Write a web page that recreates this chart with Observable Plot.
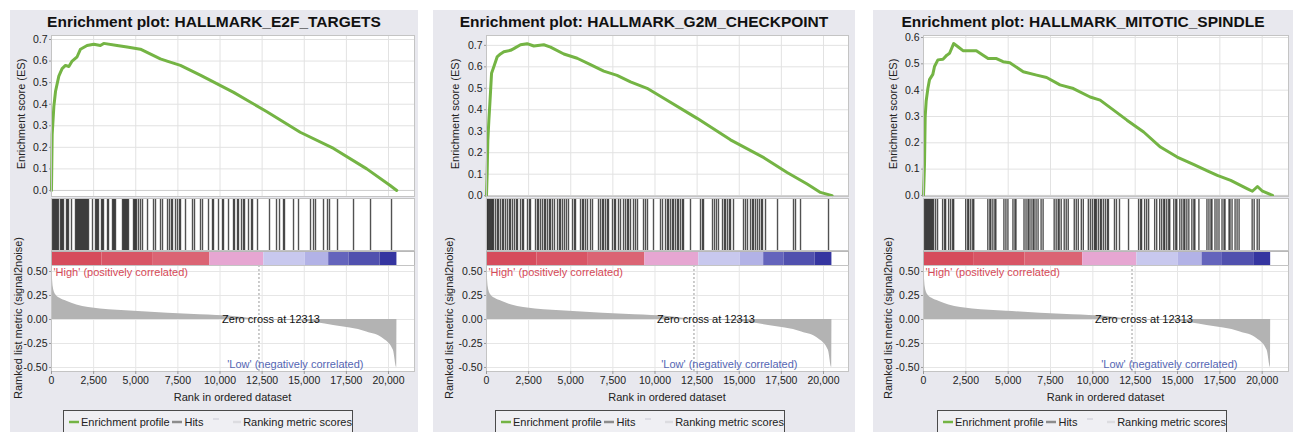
<!DOCTYPE html>
<html><head><meta charset="utf-8">
<script src="https://cdn.jsdelivr.net/npm/d3@7"></script>
<script src="https://cdn.jsdelivr.net/npm/@observablehq/plot@0.6"></script>
<style>
body{margin:0;background:#fff;font-family:"Liberation Sans",Arial,sans-serif;}
#root{position:relative;width:1293px;height:432px;overflow:hidden;background:#fff;}
.panel{position:absolute;top:10px;height:422px;background:#e8e8ee;overflow:hidden;}
.title{position:absolute;top:3px;left:0;right:0;text-align:center;font-weight:bold;font-size:15.5px;line-height:18px;color:#111;white-space:nowrap;}
.abs{position:absolute;}
.rot{position:absolute;transform:translate(-50%,-50%) rotate(-90deg);white-space:nowrap;font-size:11px;color:#222;line-height:12px;}
.xlab{position:absolute;transform:translate(-50%,-50%);white-space:nowrap;font-size:11px;color:#222;line-height:12px;}
.legend{position:absolute;top:400px;width:290px;height:24px;border:1.5px solid #4a4a4a;background:#efeff3;font-size:11px;color:#222;display:flex;align-items:center;padding-left:3px;box-sizing:border-box;white-space:nowrap;}
.legend svg{display:block;margin:0 2px;}
</style></head>
<body><div id="root"></div>
<script>
// ---------- data ----------
const titles = ["Enrichment plot: HALLMARK_E2F_TARGETS", "Enrichment plot: HALLMARK_G2M_CHECKPOINT", "Enrichment plot: HALLMARK_MITOTIC_SPINDLE"];
const xTicks = [0, 2500, 5000, 7500, 10000, 12500, 15000, 17500, 20000];
const esTicks7 = [0, 0.1, 0.2, 0.3, 0.4, 0.5, 0.6, 0.7];
const esTicks6 = [0, 0.1, 0.2, 0.3, 0.4, 0.5, 0.6];
const rankedTicks = [-0.5, -0.25, 0, 0.25, 0.5];
const zeroCross = 12313;

const e2fRank = [0, 40, 140, 240, 435, 630, 830, 1030, 1225, 1520, 1720, 2110, 2510, 2900, 3100, 3890, 4485, 5275, 5670, 6460, 6860, 7650, 8830, 10810, 12785, 14760, 16740, 18710, 20100, 20490];
const e2fES = [0, 0.26, 0.39, 0.46, 0.53, 0.565, 0.58, 0.575, 0.60, 0.62, 0.655, 0.672, 0.678, 0.672, 0.682, 0.672, 0.665, 0.655, 0.64, 0.61, 0.60, 0.58, 0.535, 0.455, 0.365, 0.27, 0.195, 0.10, 0.023, 0];
const e2fHits = [59,119,178,237,297,356,415,534,594,653,712,890,950,1009,1187,1424,1484,1543,1602,1662,1721,1781,1840,1899,1959,2018,2077,2137,2196,2433,2611,2671,2730,2789,2968,3027,3086,3324,3383,3620,3680,3739,3798,4214,4273,4332,4392,4451,4511,4570,4867,4926,4985,5045,5163,5282,5401,5698,6054,6172,6469,6588,6885,7003,7122,7181,7359,7478,7597,7656,7953,8368,8487,8843,8962,9318,9555,9614,9911,10149,10208,10505,10802,10861,11039,11098,11276,11395,11455,11692,11870,11930,12226,12938,13354,13532,13769,13828,14363,14659,15372,15550,15668,16143,16380,16499,16974,17924,18933,20179];

const g2mRank = [0, 40, 80, 140, 200, 300, 435, 630, 830, 1030, 1425, 1620, 2020, 2410, 2810, 3400, 3800, 4590, 5380, 6170, 6960, 7750, 8545, 9530, 10520, 12500, 14480, 16460, 17840, 19030, 19820, 20510];
const g2mES = [0, 0.108, 0.26, 0.35, 0.43, 0.57, 0.60, 0.646, 0.66, 0.67, 0.677, 0.685, 0.703, 0.708, 0.697, 0.703, 0.692, 0.66, 0.64, 0.61, 0.58, 0.56, 0.53, 0.50, 0.454, 0.36, 0.26, 0.177, 0.108, 0.054, 0.015, 0];
const g2mHits = [10,60,120,180,240,300,360,415,534,650,712,830,950,1009,1128,1246,1365,1424,1543,1662,1781,1840,2018,2137,2196,2433,2552,2611,2908,3027,3086,3205,3324,3443,3502,3620,3739,3798,3917,4036,4214,4332,4392,4511,4630,4748,4867,5104,5223,5282,5579,5698,5757,5876,5995,6172,6291,6647,6766,6885,6944,7063,7181,7240,7478,7597,7656,7834,7953,8131,8250,8368,8428,8546,8724,8843,8962,9318,9437,9555,9911,10327,10446,10624,10743,10802,10921,11039,11098,11217,11336,11395,11514,11633,11692,12107,12701,12820,12879,13413,13532,13650,13769,14007,14125,14185,14304,14422,14481,14659,15253,15372,15490,15668,15787,15846,15965,16083,16202,16321,16380,16559,17271,18220,18339,18636,20298];

const mitRank = [0, 60, 100, 160, 255, 355, 550, 650, 850, 1150, 1380, 1540, 1780, 2035, 2330, 3120, 3520, 3815, 4310, 4700, 5100, 5890, 6680, 7270, 8060, 8850, 9840, 10430, 11225, 12015, 13000, 13990, 14980, 15970, 16760, 17350, 18140, 19130, 19420, 19720, 20020, 20610];
const mitES = [0, 0.12, 0.30, 0.36, 0.405, 0.44, 0.46, 0.49, 0.515, 0.517, 0.533, 0.54, 0.577, 0.565, 0.55, 0.55, 0.533, 0.52, 0.52, 0.508, 0.504, 0.47, 0.457, 0.448, 0.42, 0.406, 0.374, 0.362, 0.324, 0.286, 0.241, 0.184, 0.146, 0.117, 0.093, 0.076, 0.057, 0.025, 0.016, 0.034, 0.016, 0];
const mitHits = [59,119,178,237,297,356,415,475,534,594,712,830,1128,1246,1306,1484,1602,1721,1781,2493,2611,2671,2789,2908,2968,3798,3917,3976,4095,4214,4273,4748,4867,4985,5282,5401,5460,5935,6054,6172,6232,6350,6469,6528,6647,6766,6944,7063,7716,7834,7953,8012,8131,8309,8428,8546,8903,9021,9140,9318,9437,9733,9852,9970,10089,10149,10208,10327,10446,10505,10624,10743,10861,10921,11277,11395,11573,12107,12701,12820,12879,13057,13176,13294,13650,13769,13947,14066,14185,14244,14363,14481,14541,14778,14897,14956,15134,15253,15372,15431,15550,15668,15846,15965,16024,16262,16737,16855,16974,17033,17212,17330,17449,17627,17746,17805,18042,18101,18220,18398,18517,18636,19407,19526,19704,19823];

const barStart = [0, 3000, 6000, 9400, 12600, 15050, 16450, 17650, 19500];
const barEnd = [3000, 6000, 9400, 12600, 15050, 16450, 17650, 19500, 20500];
const barColor = ["#d64c5c", "#d85565", "#db6474", "#e6a6d2", "#c8c8ee", "#b2b2e6", "#6464bc", "#5050ae", "#3535a0"];

const rankedRank = [0, 40, 100, 240, 500, 900, 1500, 2900, 4900, 6900, 8800, 10800, 12313, 14760, 16740, 18710, 19700, 20290, 20490, 20500];
const rankedValue = [0.6, 0.48, 0.34, 0.26, 0.22, 0.19, 0.15, 0.11, 0.087, 0.066, 0.049, 0.031, 0, -0.017, -0.063, -0.13, -0.2, -0.32, -0.5, 0];

const legendItems = ["Enrichment profile", "Hits", "Ranking metric scores"];
const highLabel = "'High' (positively correlated)";
const lowLabel = "'Low' (negatively correlated)";
const zeroLabel = "Zero cross at " + zeroCross;

// ---------- layout ----------
const FONT = '"Liberation Sans", Arial, sans-serif';
const GREEN = "#74b444";
const panels = [
  {title: titles[0], left: 10, width: 408, plotL: 41, plotR: 404, xMax: 21543, rank: e2fRank, es: e2fES, hits: e2fHits, esDom: [-0.028, 0.7186], esTicks: esTicks7, esLabX: 11, rkLabX: 7.5, legL: 53},
  {title: titles[1], left: 433, width: 422, plotL: 53, plotR: 415, xMax: 21484, rank: g2mRank, es: g2mES, hits: g2mHits, esDom: [-0.004, 0.746], esTicks: esTicks7, esLabX: 22, rkLabX: 16, legL: 62},
  {title: titles[2], left: 873, width: 420, plotL: 50, plotR: 415, xMax: 21553, rank: mitRank, es: mitES, hits: mitHits, esDom: [-0.004, 0.6076], esTicks: esTicks6, esLabX: 20, rkLabX: 14.5, legL: 64}
];

const root = document.getElementById("root");
function mk(tag, cls, style, text) {
  const e = document.createElement(tag);
  if (cls) e.className = cls;
  Object.assign(e.style, style || {});
  if (text != null) e.textContent = text;
  return e;
}
function place(node, top) {
  node.style.position = "absolute";
  node.style.left = "0px";
  node.style.top = top + "px";
  node.style.overflow = "visible";
  return node;
}

panels.forEach(p => {
  const panel = mk("div", "panel", {left: p.left + "px", width: p.width + "px"});
  root.appendChild(panel);
  panel.appendChild(mk("div", "title", {}, p.title));
  const common = {
    width: p.width, marginLeft: p.plotL, marginRight: p.width - p.plotR,
    style: {background: "transparent", fontFamily: FONT, fontSize: "10.5px", color: "#222", overflow: "visible"},
    x: {domain: [0, p.xMax], axis: null}
  };

  // ES plot
  const esData = p.rank.map((r, i) => ({r, v: p.es[i]}));
  const es = Plot.plot({
    ...common, height: 161 + 12, marginTop: 6, marginBottom: 6,
    y: {domain: p.esDom, axis: null},
    marks: [
      Plot.frame({fill: "white"}),
      Plot.gridX({ticks: xTicks, stroke: "#e2e2e2", strokeOpacity: 1}),
      Plot.gridY({ticks: p.esTicks, stroke: "#e2e2e2", strokeOpacity: 1}),
      Plot.ruleY([0], {stroke: "#cfcfcf"}),
      Plot.line(esData, {x: "r", y: "v", stroke: GREEN, strokeWidth: 3, strokeLinejoin: "round"}),
      Plot.frame({stroke: "#c4c4c4"}),
      Plot.axisY({ticks: p.esTicks, tickFormat: d => d.toFixed(1), tickSize: 2, tickPadding: 2, label: null, stroke: "#999"})
    ]
  });
  panel.appendChild(place(es, 35 - 6 - 10));

  // hits plot
  const hits = Plot.plot({
    ...common, height: 52, marginTop: 0, marginBottom: 0,
    marks: [
      Plot.frame({fill: "white"}),
      Plot.ruleX(p.hits, {x: d => d, stroke: "#000", strokeOpacity: 0.68, strokeWidth: 1.4}),
      Plot.frame({stroke: "#c4c4c4"})
    ]
  });
  panel.appendChild(place(hits, 198 - 10));

  // colour bar
  const barData = barStart.map((s, i) => ({s, e: barEnd[i], c: barColor[i]}));
  const bar = Plot.plot({
    ...common, height: 14, marginTop: 0, marginBottom: 0,
    color: {type: "identity"},
    marks: [
      Plot.frame({fill: "white"}),
      Plot.rect(barData, {x1: "s", x2: "e", fill: "c"}),
      Plot.frame({stroke: "#b8b8b8"})
    ]
  });
  panel.appendChild(place(bar, 251 - 10));

  // ranked list metric
  const rk = rankedRank.map((r, i) => ({r, v: rankedValue[i]}));
  const ranked = Plot.plot({
    ...common, height: 106 + 35, marginTop: 0, marginBottom: 35,
    y: {domain: [-0.542, 0.5625], axis: null},
    marks: [
      Plot.frame({fill: "white"}),
      Plot.gridX({ticks: xTicks, stroke: "#e6e6e6", strokeOpacity: 1}),
      Plot.gridY({ticks: rankedTicks, stroke: "#e6e6e6", strokeOpacity: 1}),
      Plot.areaY(rk, {x: "r", y: "v", fill: "#b3b3b3", curve: "monotone-x", clip: true}),
      Plot.ruleX([zeroCross], {x: d => d, stroke: "#9a9a9a", strokeDasharray: "2,2"}),
      Plot.text([zeroLabel], {text: d => d, x: () => zeroCross, y: () => 0, dx: 12, fontSize: 11, fill: "#111", textAnchor: "middle"}),
      Plot.text([highLabel], {text: d => d, frameAnchor: "top-left", textAnchor: "start", lineAnchor: "middle", dx: 2, dy: 6.5, fontSize: 11, fill: "#d64a58"}),
      Plot.text([lowLabel], {text: d => d, frameAnchor: "bottom-right", textAnchor: "end", lineAnchor: "middle", dx: -51, dy: -7, fontSize: 11, fill: "#5566b4"}),
      Plot.frame({stroke: "#c4c4c4"}),
      Plot.axisY({ticks: rankedTicks, tickFormat: d => d.toFixed(2), tickSize: 2, tickPadding: 2, label: null, stroke: "#999"}),
      Plot.axisX({ticks: xTicks, tickFormat: d3.format(","), tickSize: 3, tickPadding: 2, label: null, stroke: "#999"})
    ]
  });
  panel.appendChild(place(ranked, 265 - 10));

  // axis titles
  panel.appendChild(mk("div", "rot", {left: p.esLabX + "px", top: (114 - 10) + "px"}, "Enrichment score (ES)"));
  panel.appendChild(mk("div", "rot", {left: p.rkLabX + "px", top: (318 - 10) + "px"}, "Ramked list metric (signal2noise)"));
  panel.appendChild(mk("div", "xlab", {left: ((p.plotL + p.plotR) / 2) + "px", top: (397 - 10) + "px"}, "Rank in ordered dataset"));

  // legend
  const leg = mk("div", "legend", {left: p.legL + "px"});
  const icons = [
    {c: GREEN, w: 14},
    {c: "#8c8c8c", w: 15},
    {c: "#dcdce0", w: 12}
  ];
  legendItems.forEach((t, i) => {
    if (i === 2) {
      const faint = document.createElementNS("http://www.w3.org/2000/svg", "svg");
      faint.setAttribute("width", 10); faint.setAttribute("height", 12);
      faint.innerHTML = `<line x1="2" x2="8" y1="3" y2="3" stroke="#dcdce4" stroke-width="2"/>`;
      faint.style.margin = "0 12px 0 8px";
      leg.appendChild(faint);
    }
    const s = document.createElementNS("http://www.w3.org/2000/svg", "svg");
    s.setAttribute("width", icons[i].w); s.setAttribute("height", 12);
    s.innerHTML = `<line x1="0" x2="${icons[i].w}" y1="6" y2="6" stroke="${icons[i].c}" stroke-width="2.5"/>`;
    leg.appendChild(s);
    leg.appendChild(mk("span", null, {}, t));
  });
  panel.appendChild(leg);
});
</script></body></html>
